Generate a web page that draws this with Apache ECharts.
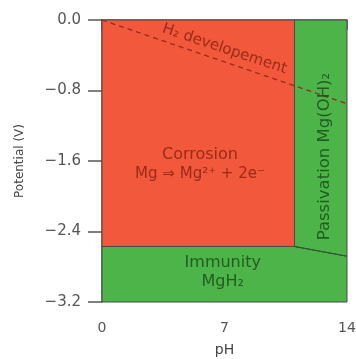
<!DOCTYPE html>
<html>
<head>
<meta charset="utf-8">
<script src="https://cdn.jsdelivr.net/npm/echarts@6/dist/echarts.min.js"></script>
<style>
  html, body { margin: 0; padding: 0; background: #fff; }
  #chart { width: 356px; height: 359px; }
</style>
</head>
<body>
<div id="chart"></div>
<script>
// Pourbaix diagram of Mg: pH vs potential (V)
const phTicks = [0, 7, 14];
const potentialTicks = [0, -0.8, -1.6, -2.4, -3.2];

// regions, as [pH, E] corners
const corrosionRegion = [[0, 0], [11, 0], [11, -2.57], [0, -2.57]];
const passivationRegion = [[11, 0], [14, 0], [14, -2.68], [11, -2.57]];
const immunityRegion = [[0, -2.57], [11, -2.57], [14, -2.68], [14, -3.2], [0, -3.2]];
const h2Line = [[0, 0], [14, -0.95]];
const passivationEdge = [[11, -2.57], [14, -2.68]];

// labels: [pH, E]
const corrosionLabel = [5.6, -1.53];
const reactionLabel = [5.6, -1.75];
const immunityLabel = [6.9, -2.76];
const hydrideLabel = [6.9, -2.97];
const passivationLabel = [12.7, -1.55];
const h2Label = [7.0, -0.33];

const RED = '#f2583b';
const GREEN = '#4db449';
const DARK_RED = '#82200f';
const DARK_GREEN = '#174717';
const FONT = 'DejaVu Sans';

const regions = [
    {points: immunityRegion, color: GREEN},
    {points: passivationRegion, color: GREEN},
    {points: corrosionRegion, color: RED}
];

function textPoint(pos, text, color, size, rotate) {
    return {
        type: 'scatter',
        symbolSize: 0,
        silent: true,
        z: 10,
        data: [pos],
        label: {
            show: true,
            position: 'inside',
            formatter: text,
            color: color,
            fontSize: size,
            fontFamily: FONT,
            rotate: rotate || 0
        }
    };
}

const chart = echarts.init(document.getElementById('chart'));
chart.setOption({
    animation: false,
    grid: {left: 102, right: 9, top: 20, bottom: 57, outerBoundsMode: 'none'},
    xAxis: {
        type: 'value',
        min: 0,
        max: 14,
        interval: 1,
        name: 'pH',
        nameLocation: 'middle',
        nameGap: 41,
        nameTextStyle: {color: '#444', fontSize: 14, fontFamily: FONT},
        axisLine: {show: true, lineStyle: {color: '#555', width: 1.5}},
        axisTick: {show: true, length: 10, lineStyle: {color: '#555', width: 1.5}},
        splitLine: {show: false},
        axisLabel: {
            color: '#555',
            fontSize: 14,
            fontFamily: FONT,
            margin: 19,
            formatter: function (v) {
                return phTicks.indexOf(v) >= 0 ? String(v) : '';
            }
        }
    },
    yAxis: {
        type: 'value',
        min: -3.2,
        max: 0,
        interval: 0.8,
        name: 'Potential (V)',
        nameLocation: 'middle',
        nameGap: 76,
        nameTextStyle: {color: '#444', fontSize: 12, fontFamily: FONT},
        axisLine: {show: true, lineStyle: {color: '#555', width: 1.5}},
        axisTick: {show: true, length: 14, lineStyle: {color: '#555', width: 1.5}},
        splitLine: {show: false},
        axisLabel: {
            color: '#555',
            fontSize: 15,
            fontFamily: FONT,
            margin: 21,
            formatter: function (v) {
                const t = potentialTicks.find(function (p) { return Math.abs(p - v) < 1e-6; });
                if (t === undefined) return '';
                return t === 0 ? '0.0' : '\u2212' + Math.abs(t).toFixed(1);
            }
        }
    },
    series: [
        {
            type: 'custom',
            silent: true,
            z: 1,
            data: regions.map(function (r, i) { return [i]; }),
            renderItem: function (params, api) {
                const r = regions[api.value(0)];
                return {
                    type: 'polygon',
                    shape: {points: r.points.map(function (p) { return api.coord(p); })},
                    style: {fill: r.color, stroke: '#4a4a4a', lineWidth: 1}
                };
            }
        },
        {
            type: 'line',
            data: passivationEdge,
            symbol: 'none',
            silent: true,
            z: 3,
            lineStyle: {color: '#2a5a2a', width: 1}
        },
        {
            type: 'line',
            data: h2Line,
            symbol: 'none',
            silent: true,
            z: 3,
            lineStyle: {color: '#9a2a1a', width: 1.3, type: [5, 4]}
        },
        textPoint(corrosionLabel, 'Corrosion', DARK_RED, 16),
        textPoint(reactionLabel, 'Mg \u21D2 Mg\u00B2\u207A + 2e\u207B', DARK_RED, 15),
        textPoint(immunityLabel, 'Immunity', DARK_GREEN, 16),
        textPoint(hydrideLabel, 'MgH\u2082', DARK_GREEN, 16),
        textPoint(passivationLabel, 'Passivation Mg(OH)\u2082', DARK_GREEN, 16.5, 90),
        textPoint(h2Label, 'H\u2082 developement', DARK_RED, 15, -18.5)
    ]
});
</script>
</body>
</html>
